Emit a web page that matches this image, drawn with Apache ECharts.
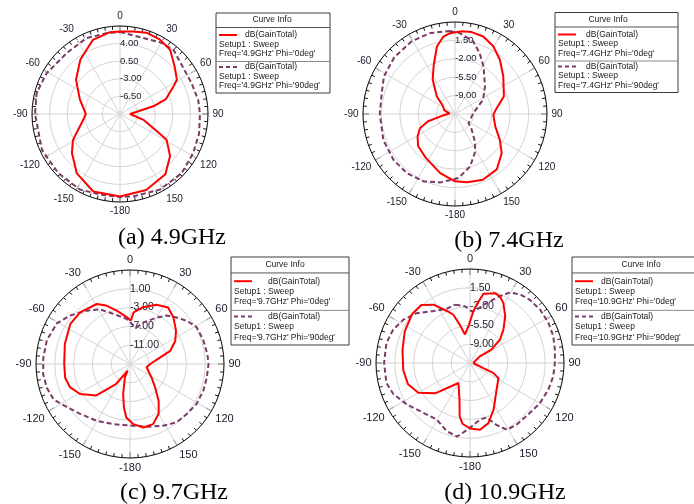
<!DOCTYPE html>
<html>
<head>
<meta charset="utf-8">
<script src="https://cdn.jsdelivr.net/npm/echarts@6/dist/echarts.min.js"></script>
<style>
html, body { margin: 0; padding: 0; background: #fff; }
#chart { width: 694px; height: 504px; }
</style>
</head>
<body>
<div id="chart"></div>
<script>
// Panel captions and legend wording
const freqLabels = ['4.9GHz', '7.4GHz', '9.7GHz', '10.9GHz'];
const panelTags = ['(a)', '(b)', '(c)', '(d)'];
const phiLabels = ['0deg', '90deg'];

// Radial (dB) scale of each panel: centre value, rim value, ring step
const radialMin = [-10, -12.5, -15, -12.5];
const radialMax = [7.5, 5, 5, 5];
const radialStep = [3.5, 3.5, 4, 3.5];

// Angle tick labels around the rim (degrees, clockwise from top)
const angleTickValues = [0, 30, 60, 90, 120, 150, 180, 210, 240, 270, 300, 330];
const angleTickText = ['0', '30', '60', '90', '120', '150', '-180', '-150', '-120', '-90', '-60', '-30'];

// (a) 4.9 GHz, Phi = 0deg
const angA0 = [0, 9, 18, 28, 38, 49, 59, 63, 72, 77, 90, 104, 115, 119, 130, 143, 161, 180, -161, -144, -129, -119, -99, -90, -70, -52, -36, -20, -7];
const gainA0 = [6.4, 6.6, 7.0, 6.8, 6.2, 4.4, 3.2, 1.9, -0.4, -3.2, -8.0, -5.2, -1.9, 0.6, 3.0, 5.0, 6.0, 6.4, 6.3, 4.6, 2.3, 0.7, -2.6, -3.2, -1.5, 1.1, 3.4, 5.7, 6.4];
// (a) 4.9 GHz, Phi = 90deg
const angA1 = [0, 30, 40, 51, 67, 80, 90, 104, 118, 134, 152, 171, 180, -166, -152, -134, -115, -90, -76, -61, -41, -24, -9];
const gainA1 = [6.3, 6.4, 6.6, 5.7, 5.5, 5.8, 5.9, 6.2, 6.5, 7.0, 7.0, 6.6, 6.5, 6.5, 7.0, 7.0, 7.1, 6.9, 7.1, 6.7, 6.1, 6.5, 6.3];

// (b) 7.4 GHz, Phi = 0deg
const angB0 = [4.6, 11.5, 20, 29.5, 39.6, 52, 70, 82, 91, 107, 120, 130, 143, 157, 170, 180, -166, -146, -131, -121, -112, -105, -98, -85, -70, -57, -46, -33, -24, -15, -8.5, -3.5];
const gainB0 = [3.3, 3.4, 3.2, 2.3, 0.9, -0.85, -2.6, -4.5, -5.2, -4.5, -2.65, -0.9, 0.7, 1.1, 0.7, 0.3, -0.9, -2.5, -3.2, -4.2, -5.3, -7.2, -10.0, -11.5, -10.3, -9.8, -7.7, -4.7, -2.5, 0.8, 2.4, 2.9];
// (b) 7.4 GHz, Phi = 90deg
const angB1 = [-3.5, 3.5, 14, 22, 31, 47, 63, 87, 124, 133, 145, 153, 164, 177, -168, -155, -141, -127, -110, -90, -74, -62, -47, -31, -17];
const gainB1 = [3.3, 2.9, 1.75, 0.0, -1.95, -4.7, -6.5, -9.0, -9.4, -8.15, -5.8, -4.2, -2.1, -0.3, 0.8, 1.65, 2.0, 2.1, 2.0, 1.8, 2.0, 2.8, 3.3, 3.6, 3.6];

// (c) 9.7 GHz, Phi = 0deg
const angC0 = [1, 4, 13, 24, 34, 43, 54, 63, 72, 78, 90, 101, 122, 133, 142, 150, 159, 168, 177, -176, -172, -167, -159, -161, -145, -133, -121, -111, -102, -90, -73, -56, -44, -29, -22, -14, -4];
const gainC0 = [-5.8, -4.0, -2.6, -1.2, -0.5, -1.45, -2.9, -4.2, -6.0, -8.5, -10.7, -11.4, -9.6, -7.7, -5.1, -2.8, -1.3, -1.2, -2.2, -3.6, -5.7, -8.5, -12.0, -13.5, -9.8, -5.2, -2.6, -1.3, -0.9, -1.0, -0.5, 0.3, 0.3, -0.4, -1.6, -3.3, -5.0];
// (c) 9.7 GHz, Phi = 90deg
const angC1 = [9.5, 18, 30, 37, 45, 53, 61, 72, 83, 90, 100, 110, 121, 131, 141, 152, 165, 180, -165, -150, -135, -124, -115, -106, -97, -86, -74, -61, -51, -39, -29, -18, -4];
const gainC1 = [-7.2, -5.7, -3.6, -2.1, -1.0, 0.2, 1.2, 1.4, 1.6, 1.7, 1.6, 1.6, 1.5, 1.1, 0.9, -0.1, -1.2, -1.9, -1.75, -1.0, 0.0, 1.3, 2.9, 3.4, 3.6, 3.5, 3.4, 2.8, 1.4, -0.4, -1.7, -3.8, -5.4];

// (d) 10.9 GHz, Phi = 0deg
const angD0 = [90, 56, 58, 52, 45, 37, 29, 24, 20, 11, 6.5, 3.7, -2.6, -10, -15, -19, -24, -32, -40, -50, -64, -79, -96, -109, -120, -131, -150, -164, -169, -173, 180, 171.5, 163, 153, 135, 118, 113, 111];
const gainD0 = [-11.9, -10.3, -7.8, -5.4, -3.7, -1.6, 0.3, 1.1, 1.3, 0.65, -1.6, -2.9, -5.7, -7.1, -5.1, -3.0, -1.9, 0.3, 1.6, 1.6, 1.0, 0.3, 0.0, -0.3, -1.4, -3.9, -8.2, -5.4, -2.4, -1.1, -0.3, 0.05, -0.8, -2.8, -5.5, -6.5, -7.8, -9.85];
// (d) 10.9 GHz, Phi = 90deg
const angD1 = [-14, -5, 2, 7, 15.5, 24, 29.5, 36, 43.5, 53, 63, 72, 81, 90, 99, 109, 120, 130, 143, 151, 157, 163, 170, 178.5, -174.5, -170, -161, -149.5, -137, -123, -112, -103.5, -90, -76.5, -66.5, -57, -47, -35, -23];
const gainD1 = [-1.3, -1.9, -2.9, -2.5, -0.9, 1.1, 2.6, 3.3, 3.7, 3.9, 3.9, 3.8, 3.5, 3.3, 3.2, 2.9, 2.5, 2.0, 1.9, 1.7, 0.0, -1.9, -1.8, -0.7, 0.5, 1.4, 0.9, -0.3, 0.2, 1.6, 2.9, 3.5, 3.5, 3.5, 3.1, 2.3, 1.1, -0.7, -1.5];

const curves = [
  [[angA0, gainA0], [angA1, gainA1]],
  [[angB0, gainB0], [angB1, gainB1]],
  [[angC0, gainC0], [angC1, gainC1]],
  [[angD0, gainD0], [angD1, gainD1]]
];

// Page layout of the four panels
const layout = [
  { center: [120, 114], radius: 88, angleFont: 10, radFont: 9.5,
    box: { x: 216, y: 13, w: 114, s: 1, hx: 56, dbx: 29 }, title: [172, 238] },
  { center: [455, 114], radius: 92, angleFont: 10, radFont: 9.5,
    box: { x: 555, y: 12.5, w: 123, s: 1, hx: 53, dbx: 31 }, title: [509, 241] },
  { center: [130, 364], radius: 94, angleFont: 11, radFont: 10.5,
    box: { x: 231, y: 257, w: 118, s: 1.1, hx: 54, dbx: 37 }, title: [174, 493] },
  { center: [470, 363], radius: 94, angleFont: 11, radFont: 10.5,
    box: { x: 572, y: 257, w: 130, s: 1.1, hx: 69, dbx: 29 }, title: [505, 493] }
];

const RED = '#ff0000';
const PURPLE = '#7a3a6a';
const GRID = '#d4d4d4';
const SANS = '"Liberation Sans", Arial, sans-serif';

const polar = [], angleAxis = [], radiusAxis = [], series = [], graphic = [];

layout.forEach((p, i) => {
  const base = radialMin[i];
  const span = radialMax[i] - radialMin[i];
  polar.push({ center: p.center, radius: p.radius });

  angleAxis.push({
    polarIndex: i, type: 'value', min: 0, max: 360, interval: 30,
    startAngle: 90, clockwise: true,
    axisLine: { show: true, lineStyle: { color: '#111', width: 1 } },
    axisTick: { show: true, inside: true, length: 6, lineStyle: { color: '#111', width: 1 } },
    minorTick: { show: true, splitNumber: 6, length: 3.5, lineStyle: { color: '#111', width: 1 } },
    splitLine: { show: true, lineStyle: { color: GRID, width: 1 } },
    axisLabel: {
      margin: 4.5, fontSize: p.angleFont, fontFamily: SANS, color: '#1a1a2a',
      formatter: v => {
        const k = angleTickValues.indexOf(v);
        return k >= 0 ? angleTickText[k] : '';
      }
    }
  });

  radiusAxis.push({
    polarIndex: i, type: 'value', min: 0, max: span, interval: radialStep[i],
    axisLine: { show: false }, axisTick: { show: false },
    splitLine: { show: true, lineStyle: { color: GRID, width: 1 } },
    axisLabel: {
      margin: 0, align: 'left', verticalAlign: 'middle', padding: [0, 0, 5, 0],
      fontSize: p.radFont, fontFamily: SANS, color: '#1a1a2a',
      showMinLabel: false, showMaxLabel: false,
      formatter: v => (v + base).toFixed(2)
    }
  });

  curves[i].forEach(([ang, gain], j) => {
    const pts = ang.map((a, k) => [gain[k] - base, (a + 360) % 360]);
    pts.push(pts[0]);
    series.push({
      type: 'line', coordinateSystem: 'polar', polarIndex: i,
      data: pts, showSymbol: false, symbol: 'none', smooth: false,
      z: j === 0 ? 4 : 3,
      lineStyle: j === 0
        ? { color: RED, width: 2 }
        : { color: PURPLE, width: 2, type: [5, 3] }
    });
  });

  // "Curve Info" box
  const b = p.box;
  const yy = d => b.y + d * b.s;
  const txt = (text, x, y, align) => ({
    type: 'text', z: 20,
    style: { text, x, y, fill: '#1a1a1a', font: '8.5px ' + SANS,
      align: align || 'left', textAlign: align || 'left',
      verticalAlign: 'middle', textVerticalAlign: 'middle' }
  });
  const hline = (y, color) => ({
    type: 'line', z: 20,
    shape: { x1: b.x, y1: y, x2: b.x + b.w, y2: y },
    style: { stroke: color, lineWidth: 1 }
  });
  graphic.push({
    type: 'rect', z: 19,
    shape: { x: b.x, y: b.y, width: b.w, height: 80 * b.s },
    style: { fill: '#fff', stroke: '#3a3a3a', lineWidth: 1 }
  });
  graphic.push(txt('Curve Info', b.x + b.hx, yy(7), 'center'));
  graphic.push(hline(yy(14.5), '#555'));
  graphic.push(hline(yy(48.5), '#8a8a8a'));
  [0, 1].forEach(j => {
    const off = j * 32;
    graphic.push({
      type: 'line', z: 20,
      shape: { x1: b.x + 3, y1: yy(22 + off), x2: b.x + 21, y2: yy(22 + off) },
      style: j === 0
        ? { stroke: RED, lineWidth: 2 }
        : { stroke: PURPLE, lineWidth: 2, lineDash: [4, 3] }
    });
    graphic.push(txt('dB(GainTotal)', b.x + b.dbx, yy(22 + off)));
    graphic.push(txt('Setup1 : Sweep', b.x + 3, yy(31.5 + off)));
    graphic.push(txt("Freq='" + freqLabels[i] + "' Phi='" + phiLabels[j] + "'", b.x + 3, yy(41 + off)));
  });

  // Panel caption
  graphic.push({
    type: 'text', z: 20,
    style: { text: panelTags[i] + ' ' + freqLabels[i], x: p.title[0], y: p.title[1],
      fill: '#000', font: '24px "Liberation Serif", "Times New Roman", serif',
      align: 'center', textAlign: 'center', verticalAlign: 'middle', textVerticalAlign: 'middle' }
  });
});

const chart = echarts.init(document.getElementById('chart'), null, { renderer: 'canvas' });
chart.setOption({
  animation: false,
  backgroundColor: '#fff',
  polar, angleAxis, radiusAxis, series, graphic
});
</script>
</body>
</html>
